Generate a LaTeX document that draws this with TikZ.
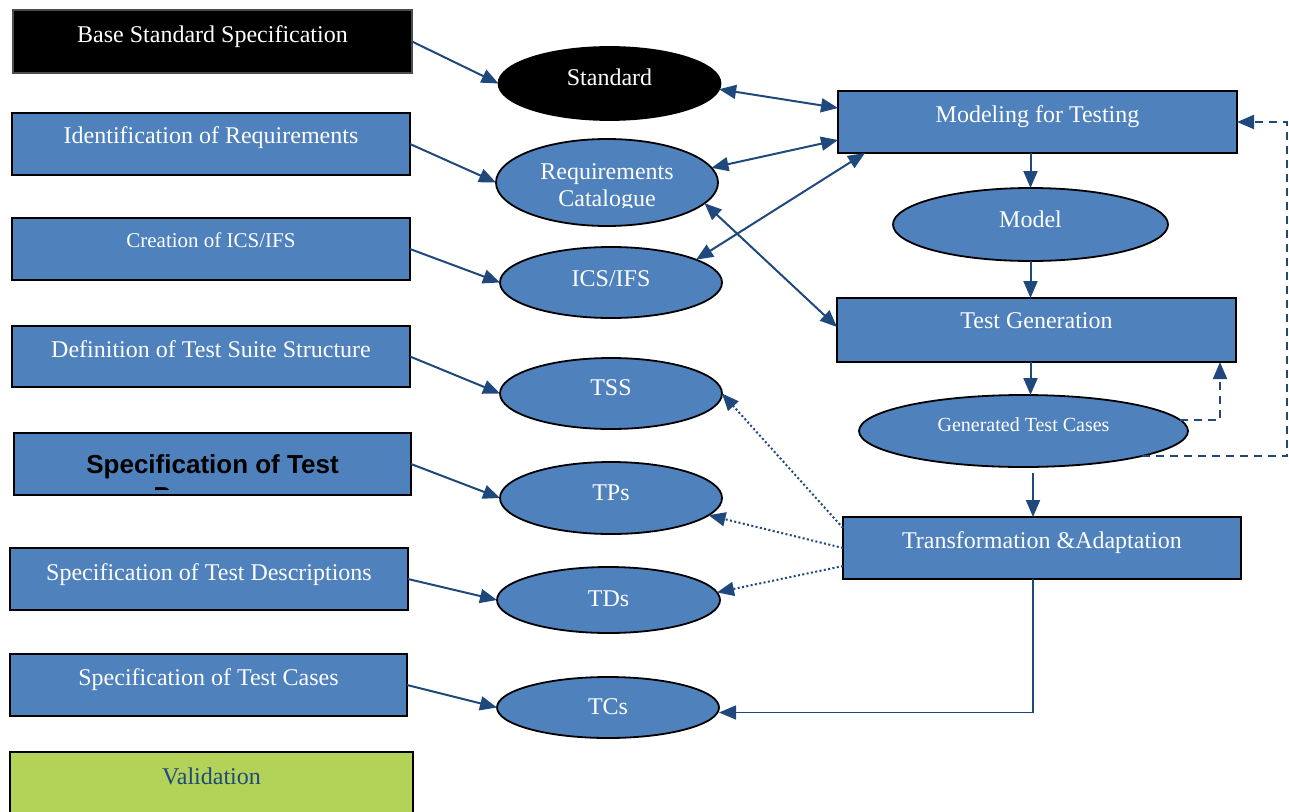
\documentclass[tikz,border=0pt]{standalone}
\usepackage{fontspec}
\setmainfont{Liberation Serif}
\newfontfamily\arialfont{Liberation Sans}
\usetikzlibrary{shapes.geometric,arrows.meta,calc}
\definecolor{boxblue}{RGB}{79,129,189}
\definecolor{lineblue}{RGB}{31,73,125}
\definecolor{valgreen}{RGB}{179,210,88}
\begin{document}
\begin{tikzpicture}[x=1pt,y=-1pt,
 box/.style={rectangle,draw=black,line width=1.8pt,fill=boxblue,inner sep=0pt,outer sep=0pt},
 oval/.style={ellipse,draw=black,line width=1.8pt,fill=boxblue,inner sep=0pt,outer sep=0pt},
 txt/.style={text=white,anchor=base,inner sep=0pt,font=\fontsize{24}{28}\selectfont},
 arr/.style={draw=lineblue,line width=2pt,-{Triangle[length=17pt,width=14pt]}},
 darr/.style={draw=lineblue,line width=2pt,{Triangle[length=17pt,width=14pt]}-{Triangle[length=17pt,width=14pt]}},
 dotarr/.style={arr,dash pattern=on 2pt off 2.4pt},
 dasharr/.style={arr,dash pattern=on 8pt off 6pt},
]
\useasboundingbox (0,0) rectangle (1289,811);

% left boxes
\node[box,fill=black,draw=gray!60!black,line width=1.2pt,minimum width=399pt,minimum height=63pt] (b1) at (212.5,41.5) {};
\node[box,minimum width=398pt,minimum height=62pt] (b2) at (211,144) {};
\node[box,minimum width=398pt,minimum height=62pt] (b3) at (211,249) {};
\node[box,minimum width=398pt,minimum height=61pt] (b4) at (211,356.5) {};
\node[box,minimum width=397pt,minimum height=62pt] (b5) at (212.5,464) {};
\node[box,minimum width=398pt,minimum height=62pt] (b6) at (209,579) {};
\node[box,minimum width=397pt,minimum height=62pt] (b7) at (208.5,685) {};
\node[box,fill=valgreen,minimum width=403pt,minimum height=64pt] (b8) at (211.5,784) {};

\node[txt] (t1) at (212.5,42) {Base Standard Specification};
\node[txt] (t2) at (211,143) {Identification of Requirements};
\node[txt,font=\fontsize{21}{25}\selectfont] (t3) at (211,247) {Creation of ICS/IFS};
\node[txt] (t4) at (211,357) {Definition of Test Suite Structure};
\begin{scope}
\clip (14,433) rectangle (411,489);
\node[text=black,anchor=base,inner sep=0pt,font=\arialfont\bfseries\fontsize{26}{32}\selectfont] (t5) at (212.5,473) {Specification of Test};
\node[text=black,anchor=base,inner sep=0pt,font=\arialfont\bfseries\fontsize{26}{32}\selectfont] (t5b) at (212.5,505) {Purposes};
\end{scope}
\node[txt] (t6) at (209,580) {Specification of Test Descriptions};
\node[txt] (t7) at (208.5,685) {Specification of Test Cases};
\node[txt,text=lineblue] (t8) at (211.5,784) {Validation};

% ellipses
\node[oval,fill=black,minimum width=222pt,minimum height=73pt] (e1) at (609.5,83.5) {};
\node[oval,minimum width=222pt,minimum height=87pt] (e2) at (607,182.5) {};
\node[oval,minimum width=222pt,minimum height=71pt] (e3) at (611,282.5) {};
\node[oval,minimum width=222pt,minimum height=71pt] (e4) at (611,393.5) {};
\node[oval,minimum width=222pt,minimum height=72pt] (e5) at (611,498) {};
\node[oval,minimum width=223pt,minimum height=66pt] (e6) at (608.5,600) {};
\node[oval,minimum width=222pt,minimum height=61pt] (e7) at (608,707.5) {};

\node[txt] (te1) at (609.5,85) {Standard};
\begin{scope}
\clip (490,139) rectangle (725,207);
\node[txt] (te2a) at (607,179) {Requirements};
\node[txt] (te2b) at (607,206) {Catalogue};
\end{scope}
\node[txt] (te3) at (611,286) {ICS/IFS};
\node[txt] (te4) at (611,395) {TSS};
\node[txt] (te5) at (611,500) {TPs};
\node[txt] (te6) at (608.5,606) {TDs};
\node[txt] (te7) at (608,714) {TCs};

% right column
\node[box,minimum width=399pt,minimum height=62pt] (m) at (1037.5,122) {};
\node[oval,minimum width=275pt,minimum height=73pt] (mo) at (1030.5,224.5) {};
\node[box,minimum width=399pt,minimum height=64pt] (tg) at (1036.5,330) {};
\node[oval,minimum width=329pt,minimum height=72pt] (gtc) at (1023.5,431) {};
\node[box,minimum width=398pt,minimum height=62pt] (tr) at (1042,548) {};

\node[txt] (tm) at (1037.5,122) {Modeling for Testing};
\node[txt] (tmo) at (1030.5,227) {Model};
\node[txt] (ttg) at (1036.5,328) {Test Generation};
\node[txt,font=\fontsize{20}{24}\selectfont] (tgtc) at (1023.5,431) {Generated Test Cases};
\node[txt] (ttr) at (1042,548) {Transformation \&Adaptation};

% left box -> ellipse arrows
\draw[arr] (b1.east) -- (e1.west);
\draw[arr] (b2.east) -- (e2.west);
\draw[arr] (b3.east) -- (e3.west);
\draw[arr] (b4.east) -- (e4.west);
\draw[arr] (b5.east) -- (e5.west);
\draw[arr] (b6.east) -- (e6.west);
\draw[arr] (b7.east) -- (e7.west);

% double arrows
\draw[darr] (e1.-3) -- ([yshift=14pt]m.west);
\draw[darr] (e2.8) -- ([yshift=-18pt]m.west);
\draw[darr] (e3.15) -- ([xshift=27pt]m.south west);
\draw[darr] (e2.-12) -- ([yshift=3pt]tg.west);

% right column flow
\draw[arr] (m.south -| mo.north) -- (mo.north);
\draw[arr] (mo.south) -- (mo.south |- tg.north);
\draw[arr] ([xshift=-6pt]tg.south) -- ([xshift=-6pt]tg.south |- gtc.north);
\draw[arr] ($(tr.north |- gtc.south)+(-9,6)$) -- ([xshift=-9pt]tr.north);

% dashed feedback
\draw[dasharr] (gtc.4) -| ([xshift=-16pt]tg.south east);
\draw[dasharr] (gtc.-12) -| ([xshift=50pt]m.east) -- (m.east);

% dotted arrows
\draw[dotarr] ([yshift=20pt]tr.west) -- (e4.east);
\draw[dotarr] (tr.west) -- (e5.-10);
\draw[dotarr] ([yshift=-18pt]tr.west) -- (e6.4);

% transformation -> TCs
\draw[arr,line width=1.6pt] ([xshift=-9pt]tr.south) |- ([yshift=-5pt]e7.east);
\end{tikzpicture}
\end{document}
